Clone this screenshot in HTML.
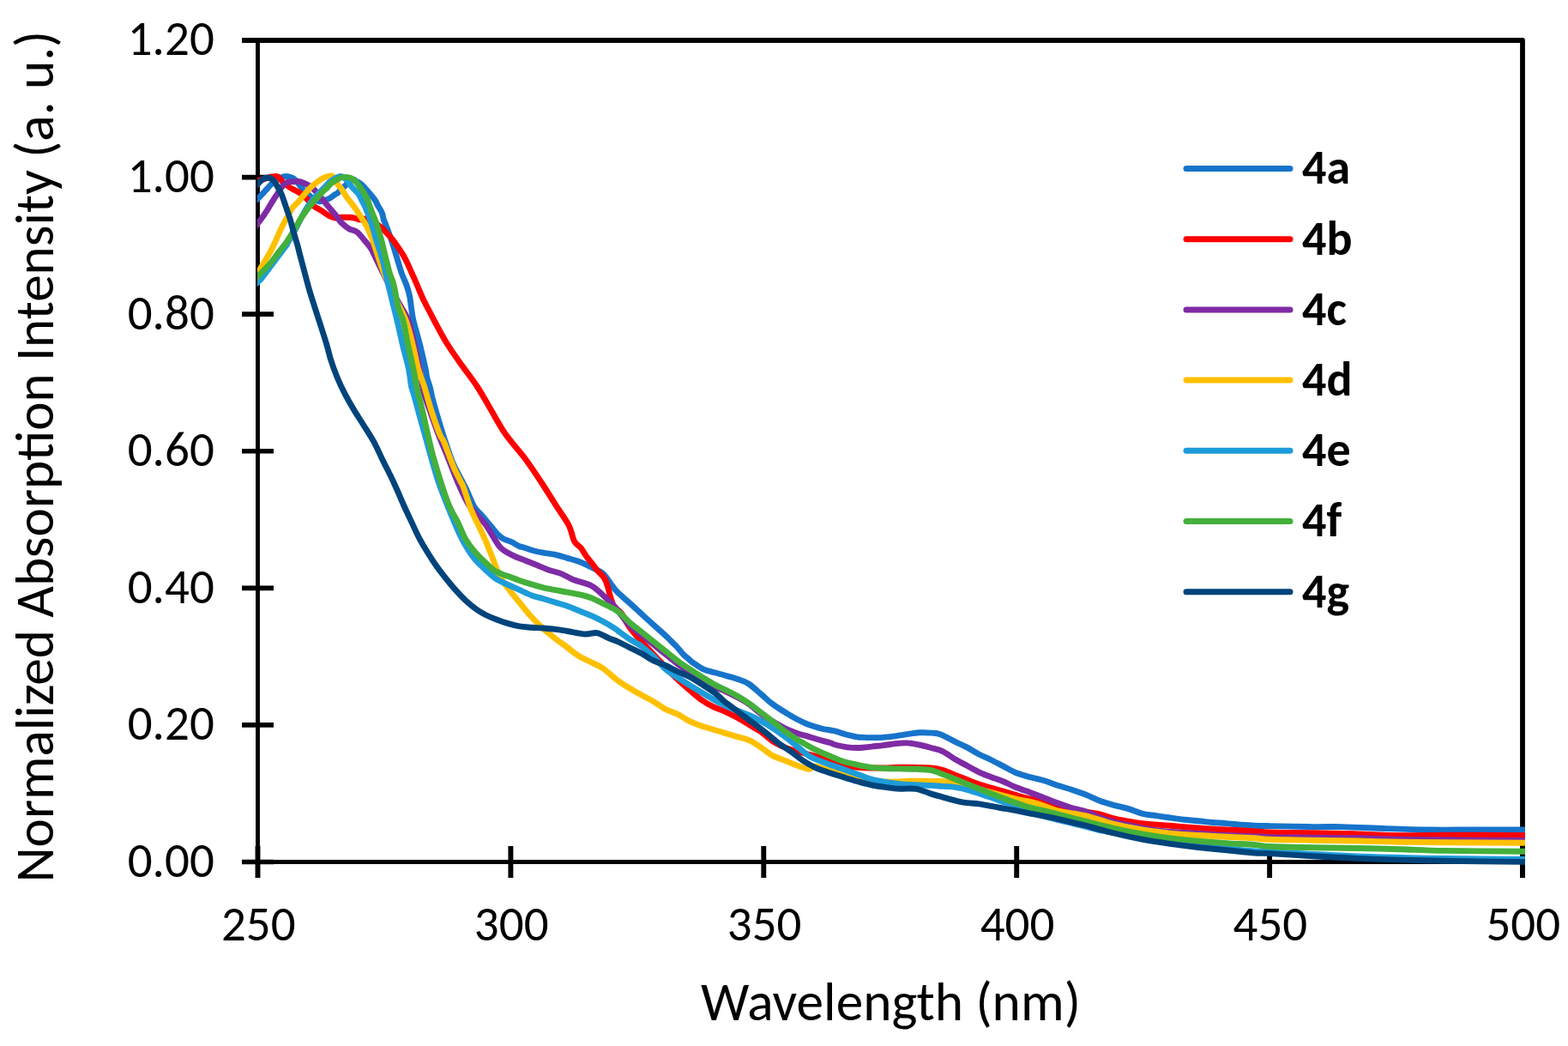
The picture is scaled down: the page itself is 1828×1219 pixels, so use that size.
<!DOCTYPE html>
<html><head><meta charset="utf-8"><title>Normalized Absorption</title>
<style>
html,body{margin:0;padding:0;background:#fff;}
body{width:1828px;height:1219px;overflow:hidden;}
svg{display:block;}
text{font-family:Carlito, 'Liberation Sans', sans-serif;fill:#000;}
</style></head><body>
<svg width="1828" height="1219" viewBox="0 0 1828 1219">
<rect width="1828" height="1219" fill="#fff"/>
<defs><clipPath id="pa"><rect x="300" y="30" width="1478" height="985"/></clipPath></defs>

<path d="M282 47 H1775 V1023" fill="none" stroke="#000" stroke-width="5.8" stroke-linejoin="round"/>
<line x1="300.5" y1="44" x2="300.5" y2="1023" stroke="#000" stroke-width="4.9"/>
<line x1="282" y1="1004.5" x2="1778" y2="1004.5" stroke="#000" stroke-width="4.9"/>
<line x1="282" y1="1004.50" x2="319" y2="1004.50" stroke="#000" stroke-width="5.6"/>
<line x1="282" y1="844.92" x2="319" y2="844.92" stroke="#000" stroke-width="5.6"/>
<line x1="282" y1="685.33" x2="319" y2="685.33" stroke="#000" stroke-width="5.6"/>
<line x1="282" y1="525.75" x2="319" y2="525.75" stroke="#000" stroke-width="5.6"/>
<line x1="282" y1="366.17" x2="319" y2="366.17" stroke="#000" stroke-width="5.6"/>
<line x1="282" y1="206.58" x2="319" y2="206.58" stroke="#000" stroke-width="5.6"/>
<line x1="282" y1="47.00" x2="319" y2="47.00" stroke="#000" stroke-width="5.6"/>
<line x1="300.50" y1="986" x2="300.50" y2="1023" stroke="#000" stroke-width="5.9"/>
<line x1="595.40" y1="986" x2="595.40" y2="1023" stroke="#000" stroke-width="5.9"/>
<line x1="890.30" y1="986" x2="890.30" y2="1023" stroke="#000" stroke-width="5.9"/>
<line x1="1185.20" y1="986" x2="1185.20" y2="1023" stroke="#000" stroke-width="5.9"/>
<line x1="1480.10" y1="986" x2="1480.10" y2="1023" stroke="#000" stroke-width="5.9"/>
<line x1="1775.00" y1="986" x2="1775.00" y2="1023" stroke="#000" stroke-width="5.9"/>
<g clip-path="url(#pa)" fill="none" stroke-width="6.9" stroke-linejoin="round" stroke-linecap="butt">
<path stroke="#1774CB" d="M294.0 238.1 C295.1 237.0 298.4 233.6 300.5 231.5 C302.6 229.4 304.6 227.5 306.5 225.4 C308.4 223.3 310.3 221.2 312.2 219.1 C314.1 217.0 316.0 214.8 318.0 213.0 C320.0 211.2 322.0 209.7 324.0 208.5 C326.0 207.3 328.1 206.5 330.0 206.0 C331.9 205.5 333.5 205.4 335.2 205.6 C336.9 205.8 338.6 206.4 340.0 207.0 C341.4 207.6 342.5 208.2 343.8 209.4 C345.1 210.6 346.6 212.3 348.0 214.0 C349.4 215.7 350.9 217.9 352.4 219.7 C353.9 221.4 355.4 222.9 357.0 224.5 C358.6 226.1 360.3 227.6 362.0 229.0 C363.7 230.4 365.2 232.0 367.0 233.0 C368.8 234.0 370.7 234.7 372.5 234.8 C374.3 234.9 376.0 234.1 378.0 233.5 C380.0 232.9 382.5 232.2 384.5 231.1 C386.5 230.0 388.2 228.3 389.8 227.2 C391.4 226.1 392.8 225.7 394.2 224.5 C395.6 223.3 396.8 221.0 398.0 219.8 C399.2 218.6 400.4 218.2 401.6 217.2 C402.8 216.1 404.1 214.6 405.3 213.5 C406.5 212.4 407.7 211.2 409.0 210.5 C410.3 209.8 411.8 209.3 413.0 209.5 C414.2 209.7 414.8 211.1 416.0 211.8 C417.2 212.5 418.5 212.7 420.0 213.8 C421.5 214.9 422.3 215.5 425.0 218.5 C427.7 221.5 433.7 228.4 436.3 231.9 C438.9 235.4 438.9 236.5 440.4 239.3 C441.9 242.1 444.4 245.7 445.5 248.5 C446.6 251.3 446.6 253.7 447.3 256.0 C448.1 258.3 448.5 258.4 450.0 262.5 C451.5 266.6 454.4 274.2 456.5 280.3 C458.6 286.4 460.4 292.7 462.3 299.0 C464.2 305.3 466.2 312.4 468.1 318.0 C470.1 323.6 472.4 327.9 474.0 332.5 C475.6 337.1 476.8 341.4 477.7 345.8 C478.6 350.2 478.8 354.1 479.5 358.7 C480.2 363.3 480.3 366.6 482.0 373.7 C483.7 380.8 487.2 392.2 489.5 401.5 C491.8 410.8 494.6 423.0 496.0 429.4 C497.4 435.8 496.9 436.2 497.8 440.0 C498.7 443.8 500.4 447.6 501.5 452.0 C502.6 456.4 502.8 459.4 504.6 466.2 C506.4 472.9 509.8 484.4 512.2 492.5 C514.7 500.6 516.5 506.9 519.3 515.0 C522.0 523.1 524.9 532.5 528.7 541.2 C532.6 550.0 538.4 559.4 542.4 567.5 C546.4 575.6 549.4 584.6 552.5 590.0 C555.6 595.4 557.8 596.1 561.0 599.8 C564.2 603.5 568.3 608.5 571.5 612.3 C574.7 616.1 577.4 619.9 580.0 622.5 C582.6 625.1 584.3 626.5 587.0 628.0 C589.7 629.5 593.4 630.3 596.4 631.7 C599.4 633.1 602.4 635.4 605.0 636.5 C607.6 637.6 609.4 637.6 612.2 638.5 C615.0 639.4 618.5 640.8 622.0 641.8 C625.5 642.8 629.2 643.5 633.4 644.2 C637.6 645.0 642.6 645.3 647.3 646.3 C651.9 647.3 656.6 649.0 661.3 650.4 C665.9 651.8 670.6 652.9 675.2 654.6 C679.8 656.4 684.5 658.6 689.1 660.9 C693.8 663.2 698.9 664.9 703.1 668.6 C707.3 672.3 711.4 679.6 714.2 683.2 C717.0 686.8 716.7 687.0 720.0 690.2 C723.3 693.4 729.2 698.4 733.9 702.6 C738.5 706.8 743.2 711.2 747.9 715.5 C752.5 719.8 757.1 723.9 761.8 728.1 C766.4 732.3 772.8 737.9 775.8 740.6 C778.8 743.4 777.6 742.3 779.9 744.6 C782.2 746.9 786.9 751.4 789.7 754.5 C792.6 757.6 794.7 760.6 797.0 763.0 C799.3 765.4 801.9 767.2 803.7 768.8 C805.5 770.4 805.3 770.6 808.0 772.4 C810.7 774.2 815.7 777.9 819.9 779.8 C824.1 781.7 828.3 782.4 833.0 783.8 C837.7 785.1 843.4 786.6 847.9 787.9 C852.4 789.2 855.8 790.0 860.0 791.5 C864.2 793.0 868.4 794.1 872.9 797.0 C877.4 799.9 882.8 805.2 887.3 809.0 C891.8 812.8 896.0 816.9 899.7 819.8 C903.4 822.7 906.2 824.4 909.5 826.5 C912.8 828.6 916.1 830.6 919.4 832.6 C922.7 834.6 926.0 836.6 929.3 838.3 C932.6 840.0 935.8 841.6 939.1 843.0 C942.4 844.4 945.6 845.5 948.9 846.6 C952.2 847.7 955.6 848.7 958.8 849.4 C962.0 850.1 965.7 850.5 968.2 851.0 C970.7 851.5 970.6 851.2 973.9 852.1 C977.2 853.0 983.2 855.1 987.9 856.3 C992.5 857.5 997.1 858.7 1001.8 859.2 C1006.4 859.8 1011.1 859.6 1015.8 859.6 C1020.4 859.6 1025.0 859.7 1029.7 859.4 C1034.4 859.1 1039.1 858.4 1043.7 857.8 C1048.3 857.2 1053.0 856.4 1057.6 855.7 C1062.2 855.0 1066.8 854.1 1071.5 853.8 C1076.2 853.5 1081.3 853.8 1085.5 854.1 C1089.7 854.5 1091.9 854.2 1096.6 855.9 C1101.2 857.6 1108.3 861.8 1113.4 864.3 C1118.5 866.8 1122.7 868.4 1127.3 870.9 C1131.9 873.4 1136.6 876.6 1141.3 879.0 C1146.0 881.4 1150.6 883.2 1155.2 885.5 C1159.8 887.8 1164.4 890.2 1169.1 892.6 C1173.8 895.0 1178.4 898.0 1183.1 900.0 C1187.8 902.0 1191.5 903.0 1197.0 904.6 C1202.5 906.2 1210.4 907.7 1216.4 909.5 C1222.4 911.3 1227.3 913.5 1232.8 915.3 C1238.3 917.1 1243.7 918.4 1249.2 920.2 C1254.7 922.0 1260.1 923.8 1265.6 926.0 C1271.1 928.2 1276.6 931.2 1282.1 933.3 C1287.6 935.3 1293.0 936.8 1298.5 938.3 C1304.0 939.8 1309.4 940.8 1314.9 942.4 C1320.4 944.0 1325.8 946.7 1331.3 948.1 C1336.8 949.5 1342.2 949.8 1347.7 950.6 C1353.2 951.4 1358.6 952.2 1364.1 953.0 C1369.6 953.8 1375.0 954.6 1380.5 955.2 C1386.0 955.8 1391.4 956.2 1396.9 956.8 C1402.4 957.3 1407.9 958.0 1413.4 958.5 C1418.9 959.0 1424.3 959.1 1429.8 959.6 C1435.3 960.1 1440.7 960.8 1446.2 961.2 C1451.7 961.6 1457.0 962.0 1462.6 962.2 C1468.2 962.4 1468.6 962.4 1480.0 962.6 C1491.4 962.8 1516.8 963.4 1530.9 963.6 C1545.0 963.8 1550.7 963.3 1564.8 963.6 C1578.9 963.9 1598.8 965.0 1615.7 965.6 C1632.7 966.2 1649.5 966.8 1666.5 967.0 C1683.5 967.2 1699.3 967.0 1717.4 967.0 C1735.5 967.0 1764.2 967.0 1775.0 967.0 C1785.8 967.0 1780.8 967.0 1782.0 967.0"/>
<path stroke="#FF0000" d="M294.0 211.2 C295.1 211.0 298.5 210.4 300.5 210.0 C302.5 209.6 304.1 209.4 306.0 209.0 C307.9 208.6 310.2 208.0 312.0 207.5 C313.8 207.0 315.3 206.3 317.0 206.0 C318.7 205.7 320.5 205.2 322.0 205.5 C323.5 205.8 324.8 206.4 326.0 207.5 C327.2 208.6 328.0 210.7 329.5 212.2 C331.0 213.7 333.1 215.2 335.0 216.5 C336.9 217.8 338.6 218.9 341.0 220.3 C343.4 221.7 346.7 222.9 349.6 224.9 C352.5 226.9 355.6 229.9 358.2 232.3 C360.8 234.8 362.1 237.4 364.9 239.6 C367.7 241.8 371.5 243.5 374.8 245.6 C378.1 247.7 381.9 250.6 384.6 252.0 C387.3 253.4 388.8 253.8 391.0 254.0 C393.2 254.2 395.3 253.4 398.0 253.3 C400.7 253.2 404.3 253.1 407.0 253.3 C409.7 253.5 412.0 253.9 414.2 254.3 C416.4 254.8 418.2 255.9 420.0 256.0 C421.8 256.1 422.7 254.6 425.0 255.0 C427.3 255.4 431.0 257.0 434.0 258.5 C437.0 260.0 440.2 261.6 443.2 264.0 C446.2 266.4 449.6 270.3 452.2 273.0 C454.8 275.7 455.4 276.0 458.5 280.3 C461.6 284.6 467.4 292.7 471.0 299.0 C474.6 305.3 477.4 312.4 480.0 318.0 C482.6 323.6 484.1 327.2 486.4 332.5 C488.7 337.8 491.6 345.0 494.0 350.0 C496.4 355.0 498.3 358.3 500.5 362.5 C502.7 366.7 503.6 368.8 507.0 375.0 C510.4 381.2 515.8 391.7 520.9 400.0 C526.0 408.3 532.0 416.7 537.9 425.0 C543.8 433.3 550.2 441.2 556.0 450.0 C561.8 458.8 567.1 468.7 572.6 478.0 C578.1 487.3 582.7 496.5 589.2 505.8 C595.7 515.1 604.9 524.7 611.8 534.0 C618.7 543.3 624.6 552.3 630.7 561.5 C636.8 570.7 643.0 581.0 648.4 589.4 C653.8 597.8 659.5 605.1 663.0 612.0 C666.5 618.9 667.3 626.5 669.6 630.9 C671.9 635.2 675.0 635.8 676.9 638.1 C678.8 640.4 679.7 642.5 681.2 644.7 C682.7 646.9 684.0 649.0 685.7 651.2 C687.4 653.4 689.5 655.6 691.2 657.8 C692.9 660.0 694.4 662.6 695.9 664.4 C697.4 666.2 698.5 666.8 700.0 668.5 C701.5 670.2 703.6 672.1 705.1 674.8 C706.6 677.5 707.8 681.3 708.8 684.6 C709.8 687.9 710.3 691.2 711.3 694.5 C712.3 697.8 713.5 701.8 714.7 704.3 C715.9 706.8 716.8 707.3 718.6 709.3 C720.4 711.2 722.9 712.4 725.4 716.0 C727.9 719.6 730.1 725.6 733.9 730.9 C737.6 736.2 742.1 741.1 747.9 747.6 C753.7 754.1 762.4 763.3 768.8 770.0 C775.1 776.7 780.2 782.3 786.0 788.0 C791.8 793.7 798.4 799.4 803.7 804.0 C809.0 808.6 813.0 812.2 817.6 815.5 C822.2 818.8 826.9 821.4 831.5 823.7 C836.1 826.0 840.9 827.2 845.5 829.3 C850.1 831.4 854.8 833.8 859.4 836.3 C864.0 838.8 868.8 841.8 873.4 844.6 C878.0 847.4 882.6 849.8 887.3 853.0 C891.9 856.2 896.6 861.1 901.3 864.1 C905.9 867.1 910.4 869.1 915.2 871.1 C920.0 873.1 924.2 874.4 930.0 876.0 C935.8 877.6 944.0 879.1 950.0 881.0 C956.0 882.9 960.5 885.4 966.0 887.2 C971.5 889.0 977.1 890.8 982.8 892.0 C988.5 893.2 994.6 893.8 1000.0 894.3 C1005.4 894.8 1010.0 894.9 1015.0 895.0 C1020.0 895.1 1024.4 895.0 1030.0 894.9 C1035.6 894.8 1042.2 894.4 1048.5 894.3 C1054.8 894.2 1061.8 894.3 1068.0 894.4 C1074.2 894.5 1080.3 894.5 1085.5 895.0 C1090.7 895.5 1094.8 896.2 1099.4 897.6 C1104.1 899.0 1108.8 901.3 1113.4 903.1 C1118.1 904.9 1122.7 906.7 1127.3 908.5 C1131.9 910.3 1136.6 912.3 1141.3 913.9 C1146.0 915.5 1150.6 916.6 1155.2 918.0 C1159.8 919.4 1164.4 920.7 1169.1 922.1 C1173.8 923.5 1178.4 924.9 1183.1 926.2 C1187.8 927.6 1192.6 929.1 1197.0 930.2 C1201.4 931.3 1203.6 931.3 1209.6 932.9 C1215.6 934.5 1224.4 937.9 1232.8 939.9 C1241.2 941.9 1251.8 943.5 1260.0 945.0 C1268.2 946.5 1275.7 947.4 1282.1 948.9 C1288.5 950.4 1293.0 952.5 1298.5 953.9 C1304.0 955.3 1309.4 956.1 1314.9 957.1 C1320.4 958.1 1323.1 958.7 1331.3 959.6 C1339.5 960.5 1353.2 961.4 1364.1 962.3 C1375.0 963.2 1386.0 964.2 1396.9 965.0 C1407.9 965.8 1418.8 966.4 1429.8 967.0 C1440.8 967.6 1454.2 968.1 1462.6 968.6 C1471.0 969.1 1468.6 969.6 1480.0 970.0 C1491.4 970.4 1514.0 970.5 1530.9 970.8 C1547.9 971.1 1564.8 971.4 1581.7 971.9 C1598.7 972.4 1615.6 973.4 1632.6 973.6 C1649.6 973.8 1659.8 973.2 1683.5 973.2 C1707.2 973.2 1758.6 973.4 1775.0 973.5 C1791.4 973.6 1780.8 973.5 1782.0 973.5"/>
<path stroke="#7F2BA5" d="M294.0 269.3 C295.1 267.8 298.4 263.3 300.5 260.5 C302.6 257.7 304.6 255.2 306.5 252.4 C308.4 249.6 310.3 246.9 312.2 243.8 C314.1 240.8 316.1 237.2 318.0 234.1 C319.9 231.0 321.8 228.3 323.7 225.4 C325.6 222.5 327.6 219.0 329.5 216.8 C331.4 214.6 332.8 213.0 335.2 212.2 C337.6 211.3 341.4 211.8 343.8 211.7 C346.2 211.6 347.2 211.1 349.6 211.7 C352.0 212.3 355.8 213.9 358.2 215.1 C360.6 216.3 362.0 217.3 364.0 219.0 C366.0 220.7 368.1 222.9 370.0 225.0 C371.9 227.1 373.5 229.5 375.4 231.8 C377.3 234.1 379.3 236.4 381.2 238.7 C383.1 241.0 385.0 243.2 386.9 245.5 C388.8 247.8 390.8 250.1 392.6 252.4 C394.5 254.7 395.6 257.1 398.0 259.5 C400.4 261.9 404.0 264.9 407.0 266.7 C410.0 268.5 413.1 268.0 416.1 270.3 C419.1 272.6 422.4 277.1 425.1 280.3 C427.8 283.5 430.5 286.6 432.3 289.3 C434.1 292.0 433.9 292.2 436.0 296.5 C438.1 300.8 441.8 308.6 445.0 315.0 C448.2 321.4 451.5 328.3 455.0 335.0 C458.5 341.7 462.5 348.6 466.0 355.0 C469.5 361.4 473.3 366.0 476.1 373.7 C478.9 381.4 480.9 391.8 483.0 401.0 C485.1 410.2 487.2 419.7 489.0 429.0 C490.8 438.3 492.0 448.8 494.0 457.0 C496.0 465.2 498.2 469.8 501.0 478.0 C503.8 486.2 507.4 496.7 511.0 506.0 C514.6 515.3 518.8 524.8 522.5 534.0 C526.2 543.2 529.4 552.3 533.5 561.5 C537.6 570.7 541.7 580.9 547.0 589.0 C552.3 597.1 560.5 604.0 565.1 610.0 C569.7 616.0 571.5 620.4 574.8 625.3 C578.0 630.2 580.6 635.6 584.6 639.3 C588.6 643.0 593.9 645.3 598.5 647.6 C603.1 649.9 607.9 651.3 612.5 653.2 C617.1 655.1 621.8 656.9 626.4 658.8 C631.0 660.7 635.6 662.8 640.3 664.4 C644.9 666.0 649.6 666.8 654.3 668.6 C658.9 670.5 662.4 673.2 668.2 675.5 C674.0 677.8 683.3 679.5 689.1 682.5 C694.9 685.5 698.5 689.5 703.1 693.7 C707.8 697.9 712.8 702.9 717.0 707.6 C721.2 712.3 725.4 718.5 728.2 722.0 C731.0 725.5 730.6 725.8 733.9 728.8 C737.2 731.8 743.2 736.2 747.9 739.9 C752.5 743.6 757.1 747.4 761.8 751.1 C766.4 754.8 771.1 758.6 775.8 762.3 C780.4 766.0 785.1 769.9 789.7 773.4 C794.4 776.9 799.1 780.2 803.7 783.2 C808.4 786.2 813.0 788.7 817.6 791.5 C822.2 794.3 826.9 797.6 831.5 799.9 C836.1 802.2 840.9 803.4 845.5 805.5 C850.1 807.6 854.8 810.0 859.4 812.5 C864.0 815.0 868.8 817.5 873.4 820.8 C878.0 824.0 882.6 828.6 887.3 832.0 C891.9 835.4 896.6 838.2 901.3 841.0 C905.9 843.8 910.6 846.6 915.2 848.8 C919.8 851.0 924.5 852.8 929.1 854.4 C933.8 856.0 938.5 857.2 943.1 858.6 C947.8 860.0 952.8 861.5 957.0 862.7 C961.2 863.9 965.4 864.9 968.2 865.8 C971.0 866.7 970.6 867.2 973.9 868.0 C977.2 868.8 983.2 870.2 987.9 870.8 C992.5 871.4 997.1 871.6 1001.8 871.5 C1006.4 871.4 1011.1 870.6 1015.8 870.1 C1020.4 869.6 1025.0 869.3 1029.7 868.7 C1034.4 868.1 1039.1 867.1 1043.7 866.6 C1048.3 866.1 1053.0 865.7 1057.6 865.9 C1062.2 866.1 1066.8 867.1 1071.5 868.0 C1076.2 868.9 1080.8 870.2 1085.5 871.5 C1090.2 872.8 1094.8 873.6 1099.4 875.8 C1104.1 878.0 1108.8 882.0 1113.4 884.8 C1118.1 887.5 1122.7 889.8 1127.3 892.3 C1131.9 894.8 1136.6 897.6 1141.3 899.8 C1146.0 902.0 1150.6 903.7 1155.2 905.5 C1159.8 907.3 1164.4 908.6 1169.1 910.5 C1173.8 912.4 1178.4 915.1 1183.1 917.0 C1187.8 918.9 1192.6 920.5 1197.0 922.1 C1201.4 923.7 1203.6 924.4 1209.6 926.7 C1215.6 929.0 1226.2 933.3 1232.8 935.8 C1239.4 938.3 1243.7 939.8 1249.2 941.5 C1254.7 943.2 1260.1 943.9 1265.6 945.8 C1271.1 947.7 1276.6 950.7 1282.1 952.7 C1287.6 954.7 1293.0 956.4 1298.5 957.8 C1304.0 959.2 1309.4 960.1 1314.9 961.3 C1320.4 962.5 1325.8 963.8 1331.3 964.8 C1336.8 965.8 1342.2 966.8 1347.7 967.6 C1353.2 968.4 1355.9 968.8 1364.1 969.4 C1372.3 970.0 1386.0 970.8 1396.9 971.5 C1407.9 972.2 1418.8 973.0 1429.8 973.5 C1440.8 974.0 1454.2 974.2 1462.6 974.6 C1471.0 975.0 1468.6 975.3 1480.0 975.6 C1491.4 975.9 1514.0 976.0 1530.9 976.2 C1547.9 976.4 1564.8 976.5 1581.7 976.8 C1598.7 977.1 1615.6 977.9 1632.6 978.2 C1649.6 978.5 1659.8 978.5 1683.5 978.7 C1707.2 978.9 1758.6 979.4 1775.0 979.5 C1791.4 979.6 1780.8 979.6 1782.0 979.6"/>
<path stroke="#FFC000" d="M294.0 331.4 C295.1 329.3 298.7 322.4 300.5 319.0 C302.3 315.6 302.4 314.9 304.8 310.8 C307.2 306.7 312.0 299.3 314.7 294.4 C317.4 289.5 319.0 285.9 321.2 281.2 C323.4 276.5 325.5 271.0 327.8 266.2 C330.1 261.4 333.0 256.4 335.2 252.4 C337.4 248.4 339.1 244.8 341.0 242.1 C342.9 239.4 344.8 238.5 346.7 236.4 C348.6 234.3 350.5 231.8 352.4 229.5 C354.3 227.2 356.3 224.7 358.2 222.6 C360.1 220.5 362.0 218.5 363.9 216.8 C365.8 215.1 367.8 213.6 369.7 212.2 C371.6 210.8 373.5 209.2 375.4 208.2 C377.3 207.1 379.3 206.4 381.2 205.9 C383.1 205.4 385.0 204.7 386.5 205.0 C388.0 205.3 388.8 205.9 390.0 207.5 C391.2 209.1 392.2 212.4 393.5 214.5 C394.8 216.6 396.1 217.5 397.9 220.0 C399.6 222.5 401.5 226.0 404.0 229.5 C406.5 233.0 410.3 237.4 412.9 241.0 C415.5 244.6 417.3 247.7 419.5 251.0 C421.7 254.3 424.0 257.7 425.9 261.0 C427.8 264.3 429.3 267.7 430.8 271.0 C432.3 274.3 433.4 276.5 435.0 281.0 C436.6 285.5 438.4 291.8 440.5 298.0 C442.6 304.2 444.2 310.0 447.5 318.0 C450.8 326.0 455.7 336.7 460.0 346.0 C464.3 355.3 469.8 364.4 473.3 373.7 C476.8 382.9 478.8 392.2 481.1 401.5 C483.5 410.8 485.2 421.3 487.4 429.4 C489.6 437.5 491.9 441.9 494.5 450.0 C497.1 458.1 499.7 468.6 502.7 477.9 C505.7 487.2 510.0 499.6 512.5 505.8 C515.0 512.0 515.6 510.4 517.6 515.0 C519.6 519.6 522.6 528.4 524.7 533.7 C526.8 539.0 527.9 542.4 530.0 547.0 C532.1 551.6 535.6 558.1 537.3 561.5 C539.0 564.9 538.2 562.1 540.2 567.5 C542.2 572.9 546.4 586.6 549.1 593.7 C551.9 600.8 553.8 603.8 556.7 610.0 C559.6 616.2 563.4 623.9 566.4 630.9 C569.4 637.9 572.0 644.8 574.8 651.8 C577.6 658.8 580.0 666.7 583.2 672.7 C586.5 678.8 590.6 683.2 594.3 688.1 C598.0 693.0 601.3 696.9 605.5 702.0 C609.7 707.1 614.8 713.7 619.4 718.8 C624.0 723.9 630.0 729.5 633.4 732.7 C636.8 735.9 637.2 735.9 640.0 738.2 C642.8 740.5 646.7 743.8 650.0 746.3 C653.3 748.8 655.8 750.3 660.0 753.4 C664.2 756.5 670.4 761.8 675.2 764.8 C680.1 767.8 684.5 769.3 689.1 771.7 C693.8 774.1 698.0 775.5 703.1 779.0 C708.2 782.5 714.9 789.2 720.0 793.0 C725.1 796.8 729.2 799.2 733.9 802.0 C738.5 804.8 743.2 807.4 747.9 810.0 C752.5 812.6 757.1 814.8 761.8 817.5 C766.4 820.2 771.1 824.1 775.8 826.5 C780.4 828.9 785.1 829.8 789.7 832.1 C794.4 834.4 799.1 838.1 803.7 840.4 C808.4 842.7 813.0 844.4 817.6 846.0 C822.2 847.6 826.9 848.8 831.5 850.2 C836.1 851.6 840.9 853.0 845.5 854.4 C850.1 855.8 854.8 857.2 859.4 858.6 C864.0 860.0 868.8 860.6 873.4 862.7 C878.0 864.8 882.6 868.1 887.3 871.1 C891.9 874.1 896.6 878.4 901.3 880.9 C905.9 883.4 910.6 884.5 915.2 886.4 C919.8 888.2 924.5 890.4 929.1 892.0 C933.8 893.6 939.6 896.0 943.1 896.2 C946.6 896.4 946.2 892.8 950.0 893.0 C953.8 893.2 960.5 896.0 966.0 897.5 C971.5 899.0 977.1 900.5 982.8 902.0 C988.5 903.5 994.5 905.0 1000.0 906.4 C1005.5 907.8 1010.4 909.3 1015.7 910.1 C1021.0 910.9 1026.5 910.9 1032.0 911.0 C1037.5 911.1 1043.8 911.1 1048.5 911.0 C1053.2 910.9 1056.1 910.4 1060.0 910.2 C1063.9 910.1 1067.8 910.1 1072.0 910.1 C1076.2 910.1 1080.9 910.4 1085.5 910.5 C1090.1 910.6 1092.4 909.8 1099.4 910.7 C1106.4 911.7 1118.9 914.3 1127.3 916.2 C1135.7 918.1 1141.2 919.7 1150.0 922.0 C1158.8 924.3 1170.1 927.6 1180.0 930.0 C1189.9 932.4 1200.8 934.0 1209.6 936.5 C1218.4 939.0 1223.5 942.4 1232.8 944.8 C1242.1 947.1 1254.6 948.0 1265.6 950.6 C1276.5 953.2 1287.5 957.7 1298.5 960.4 C1309.5 963.1 1320.4 965.2 1331.3 967.0 C1342.2 968.8 1353.2 970.0 1364.1 971.1 C1375.0 972.2 1386.0 972.8 1396.9 973.5 C1407.9 974.2 1418.8 974.7 1429.8 975.2 C1440.8 975.8 1454.2 976.3 1462.6 976.8 C1471.0 977.3 1468.6 977.9 1480.0 978.3 C1491.4 978.7 1514.0 978.9 1530.9 979.2 C1547.9 979.5 1564.8 979.7 1581.7 980.0 C1598.7 980.3 1615.6 980.9 1632.6 981.2 C1649.6 981.5 1659.8 981.5 1683.5 981.7 C1707.2 981.9 1758.6 982.1 1775.0 982.2 C1791.4 982.3 1780.8 982.2 1782.0 982.2"/>
<path stroke="#1E9CD9" d="M294.0 335.3 C295.1 334.2 298.7 330.6 300.5 328.8 C302.3 327.0 302.4 327.4 304.8 324.5 C307.2 321.6 311.4 315.9 314.7 311.5 C318.0 307.1 321.2 302.8 324.5 298.4 C327.8 294.0 332.5 287.9 334.4 285.2 C336.3 282.5 334.7 284.2 336.0 282.0 C337.3 279.8 340.0 275.6 342.0 272.0 C344.0 268.4 346.0 264.2 348.0 260.3 C350.0 256.4 352.0 252.2 354.0 248.6 C356.0 245.0 358.0 241.7 360.0 238.8 C362.0 235.9 364.0 233.6 366.0 231.3 C368.0 229.0 370.0 226.9 372.0 224.8 C374.0 222.7 376.0 220.8 378.0 218.7 C380.0 216.6 382.0 214.2 384.0 212.4 C386.0 210.7 388.6 209.1 390.0 208.2 C391.4 207.3 391.4 207.4 392.6 207.0 C393.8 206.6 395.6 205.5 397.0 205.5 C398.4 205.5 399.7 206.1 401.0 207.0 C402.3 207.9 403.4 209.1 405.0 211.0 C406.6 212.9 408.6 216.0 410.8 218.5 C413.0 221.0 416.1 223.6 418.0 226.2 C419.9 228.8 420.6 231.3 421.9 233.8 C423.2 236.3 423.7 236.5 425.6 241.0 C427.5 245.5 431.0 254.3 433.2 261.0 C435.4 267.7 437.4 275.7 439.0 281.0 C440.6 286.3 441.7 288.8 443.0 293.0 C444.3 297.2 445.8 302.1 446.9 306.2 C448.0 310.3 448.5 313.5 449.5 317.9 C450.5 322.3 451.7 327.9 452.8 332.5 C453.9 337.1 454.4 338.9 456.1 345.8 C457.8 352.7 460.8 364.4 463.0 373.7 C465.2 383.0 467.1 392.2 469.3 401.5 C471.5 410.8 474.6 421.3 476.3 429.4 C478.0 437.5 478.5 444.9 479.5 450.0 C480.5 455.1 479.9 450.7 482.5 460.0 C485.1 469.3 490.3 488.9 495.1 505.8 C499.9 522.7 505.2 544.1 511.1 561.5 C517.0 578.9 525.4 598.4 530.2 610.0 C535.0 621.6 536.3 624.2 540.0 630.9 C543.7 637.6 548.1 644.8 552.5 650.4 C556.9 656.0 562.2 660.4 566.4 664.4 C570.6 668.4 573.4 671.3 577.6 674.1 C581.8 676.9 586.9 678.9 591.5 681.1 C596.1 683.3 600.9 685.3 605.5 687.4 C610.1 689.5 614.8 692.0 619.4 693.7 C624.0 695.4 628.8 696.4 633.4 697.8 C638.0 699.2 642.6 700.6 647.3 702.0 C651.9 703.4 656.6 704.6 661.3 706.2 C665.9 707.8 670.6 709.9 675.2 711.8 C679.8 713.7 684.5 715.3 689.1 717.4 C693.8 719.5 698.5 721.8 703.1 724.3 C707.8 726.8 713.4 730.3 717.0 732.7 C720.6 735.1 722.2 736.5 725.0 738.5 C727.8 740.5 730.1 742.3 733.9 744.8 C737.7 747.2 743.2 749.8 747.9 753.2 C752.5 756.6 757.1 760.6 761.8 765.0 C766.4 769.4 771.1 775.6 775.8 779.7 C780.4 783.8 785.1 786.3 789.7 789.4 C794.4 792.5 799.1 795.4 803.7 798.3 C808.4 801.2 813.0 804.0 817.6 806.8 C822.2 809.6 826.9 812.4 831.5 815.0 C836.1 817.6 840.8 820.1 845.5 822.3 C850.2 824.5 854.9 826.1 859.5 828.0 C864.1 829.9 868.8 831.4 873.4 833.5 C878.0 835.6 882.6 837.9 887.3 840.4 C891.9 842.9 896.6 845.8 901.3 848.8 C905.9 851.8 910.6 855.1 915.2 858.6 C919.8 862.1 924.5 866.0 929.1 869.7 C933.8 873.4 939.6 878.5 943.1 880.9 C946.6 883.3 946.2 882.8 950.0 884.4 C953.8 886.0 960.5 888.5 966.0 890.5 C971.5 892.5 977.1 894.3 982.8 896.3 C988.5 898.3 994.5 900.4 1000.0 902.4 C1005.5 904.4 1010.4 906.6 1015.7 908.1 C1021.0 909.6 1026.5 910.5 1032.0 911.4 C1037.5 912.3 1042.5 913.0 1048.5 913.6 C1054.5 914.2 1062.0 914.5 1068.2 914.8 C1074.4 915.1 1080.3 915.1 1085.5 915.4 C1090.7 915.7 1094.8 916.1 1099.4 916.4 C1104.1 916.7 1108.8 916.6 1113.4 917.3 C1118.1 917.9 1122.7 919.1 1127.3 920.3 C1131.9 921.5 1136.6 923.1 1141.3 924.6 C1146.0 926.1 1150.6 927.7 1155.2 929.3 C1159.8 930.9 1164.4 933.0 1169.1 934.4 C1173.8 935.8 1177.9 936.0 1183.1 937.7 C1188.2 939.4 1194.7 942.4 1200.0 944.5 C1205.3 946.6 1209.5 948.7 1215.0 950.5 C1220.5 952.3 1227.0 953.8 1232.8 955.3 C1238.6 956.8 1244.5 958.1 1250.0 959.4 C1255.5 960.7 1260.3 961.8 1265.6 963.2 C1270.9 964.6 1276.5 966.5 1282.0 967.6 C1287.5 968.7 1290.3 968.5 1298.5 970.0 C1306.7 971.5 1320.4 974.6 1331.3 976.5 C1342.2 978.4 1353.2 980.0 1364.1 981.5 C1375.0 983.0 1386.0 984.2 1396.9 985.5 C1407.9 986.8 1418.8 987.9 1429.8 989.0 C1440.8 990.1 1454.2 991.4 1462.6 992.0 C1471.0 992.6 1468.6 991.9 1480.0 992.5 C1491.4 993.1 1514.0 994.6 1530.9 995.5 C1547.9 996.4 1564.8 997.3 1581.7 998.0 C1598.7 998.7 1615.6 999.1 1632.6 999.5 C1649.6 999.9 1659.8 1000.2 1683.5 1000.5 C1707.2 1000.8 1758.6 1001.3 1775.0 1001.5 C1791.4 1001.7 1780.8 1001.6 1782.0 1001.6"/>
<path stroke="#44B03B" d="M294.0 328.6 C295.1 327.5 297.1 325.5 300.5 322.0 C303.9 318.5 310.7 312.1 314.7 307.5 C318.7 302.9 321.4 298.5 324.5 294.4 C327.6 290.3 330.7 286.8 333.4 283.0 C336.1 279.2 338.1 275.9 340.9 271.4 C343.6 266.9 347.1 260.4 349.9 256.0 C352.7 251.6 355.2 248.2 357.5 245.0 C359.8 241.8 361.9 239.3 363.9 236.9 C365.9 234.5 367.8 232.7 369.7 230.6 C371.6 228.5 373.5 226.2 375.4 224.3 C377.3 222.4 379.6 220.7 381.2 219.1 C382.8 217.5 383.1 216.1 385.0 214.5 C386.9 212.9 390.4 210.8 392.6 209.5 C394.8 208.2 396.2 207.5 398.0 207.0 C399.8 206.5 401.7 206.3 403.5 206.4 C405.3 206.5 407.2 206.7 409.0 207.5 C410.8 208.3 412.3 209.4 414.0 211.0 C415.7 212.6 417.5 214.9 419.2 217.2 C420.9 219.4 422.6 222.1 424.1 224.5 C425.6 226.9 427.0 229.2 428.2 231.9 C429.4 234.7 430.1 237.8 431.3 241.0 C432.5 244.2 433.9 247.7 435.2 251.0 C436.5 254.3 438.0 257.7 439.1 261.0 C440.2 264.3 441.0 267.7 442.0 271.0 C443.0 274.3 443.8 276.3 445.0 281.0 C446.2 285.7 448.3 294.8 449.3 299.0 C450.3 303.2 450.4 303.0 451.2 306.2 C452.0 309.4 452.9 313.6 454.2 318.0 C455.5 322.4 457.5 325.7 459.2 332.5 C460.9 339.3 462.6 351.8 464.4 358.7 C466.2 365.6 468.1 366.6 470.0 373.7 C471.9 380.8 473.6 392.2 475.6 401.5 C477.6 410.8 480.1 421.3 481.8 429.4 C483.5 437.5 483.9 441.9 485.7 450.0 C487.4 458.1 490.1 468.6 492.3 477.9 C494.5 487.2 496.4 496.5 498.6 505.8 C500.8 515.1 502.9 524.4 505.5 533.7 C508.1 543.0 510.9 552.2 513.9 561.5 C516.9 570.8 520.3 581.3 523.7 589.4 C527.1 597.5 531.2 603.5 534.4 610.0 C537.6 616.5 539.5 622.5 542.7 628.1 C546.0 633.7 550.0 638.9 553.9 643.5 C557.8 648.1 562.4 652.3 566.4 656.0 C570.4 659.7 573.4 663.2 577.6 665.8 C581.8 668.3 586.9 669.5 591.5 671.3 C596.1 673.1 600.9 674.8 605.5 676.4 C610.1 678.0 614.8 679.5 619.4 680.9 C624.0 682.3 628.8 683.7 633.4 684.8 C638.0 685.9 642.6 686.7 647.3 687.6 C651.9 688.5 656.6 689.3 661.3 690.2 C665.9 691.1 670.6 691.7 675.2 692.8 C679.8 693.9 684.5 695.0 689.1 696.8 C693.8 698.6 698.5 701.1 703.1 703.4 C707.8 705.7 713.5 708.4 717.0 710.4 C720.5 712.4 721.2 713.0 724.0 715.5 C726.8 718.0 729.9 721.8 733.9 725.3 C737.9 728.8 743.2 732.7 747.9 736.4 C752.5 740.1 757.1 743.9 761.8 747.6 C766.4 751.3 771.1 755.1 775.8 758.8 C780.4 762.5 785.1 766.4 789.7 769.9 C794.4 773.4 799.1 776.6 803.7 779.7 C808.4 782.8 813.0 785.4 817.6 788.3 C822.2 791.2 826.9 794.4 831.5 797.0 C836.1 799.6 840.9 801.5 845.5 803.8 C850.1 806.1 854.8 808.3 859.4 811.0 C864.0 813.7 868.8 816.5 873.4 819.8 C878.0 823.0 882.6 826.9 887.3 830.5 C891.9 834.1 896.6 837.7 901.3 841.3 C905.9 844.9 910.6 848.8 915.2 852.2 C919.8 855.6 924.5 858.8 929.1 861.7 C933.8 864.6 939.6 867.8 943.1 869.7 C946.6 871.6 946.2 871.5 950.0 873.3 C953.8 875.1 960.5 878.2 966.0 880.5 C971.5 882.8 977.1 885.5 982.8 887.3 C988.5 889.1 994.5 890.1 1000.0 891.3 C1005.5 892.5 1010.4 893.6 1015.7 894.3 C1021.0 895.0 1026.5 895.2 1032.0 895.5 C1037.5 895.8 1042.5 895.8 1048.5 895.9 C1054.5 896.0 1062.0 896.0 1068.2 896.3 C1074.4 896.6 1080.3 896.6 1085.5 897.6 C1090.7 898.6 1094.8 900.8 1099.4 902.5 C1104.1 904.2 1108.8 906.1 1113.4 908.0 C1118.1 909.9 1122.7 911.7 1127.3 913.6 C1131.9 915.5 1136.6 917.3 1141.3 919.2 C1146.0 921.1 1150.8 923.1 1155.2 924.8 C1159.6 926.5 1163.1 927.8 1167.4 929.4 C1171.7 931.0 1176.5 932.9 1181.0 934.5 C1185.5 936.1 1190.2 937.8 1194.7 939.2 C1199.2 940.6 1203.5 941.7 1208.0 942.8 C1212.5 943.9 1217.9 945.0 1222.0 946.0 C1226.1 947.0 1225.5 947.0 1232.8 948.9 C1240.1 950.8 1254.6 954.4 1265.6 957.1 C1276.5 959.8 1287.5 962.8 1298.5 965.3 C1309.5 967.8 1320.4 970.0 1331.3 971.9 C1342.2 973.8 1353.2 975.4 1364.1 976.8 C1375.0 978.2 1386.0 979.1 1396.9 980.1 C1407.9 981.1 1418.8 981.9 1429.8 982.6 C1440.8 983.3 1454.2 983.9 1462.6 984.5 C1471.0 985.1 1468.6 986.0 1480.0 986.5 C1491.4 987.0 1514.0 987.4 1530.9 987.7 C1547.9 988.0 1564.8 988.2 1581.7 988.5 C1598.7 988.8 1615.6 989.2 1632.6 989.7 C1649.6 990.2 1659.8 991.0 1683.5 991.4 C1707.2 991.8 1758.6 992.1 1775.0 992.2 C1791.4 992.3 1780.8 992.3 1782.0 992.3"/>
<path stroke="#00447B" d="M294.0 221.0 C295.1 219.9 298.5 216.5 300.5 214.5 C302.5 212.5 304.1 210.2 306.0 209.0 C307.9 207.8 310.0 206.8 312.2 207.0 C314.4 207.2 317.2 208.7 319.1 210.5 C321.0 212.3 322.2 215.3 323.7 218.0 C325.2 220.7 326.8 222.9 328.3 226.6 C329.9 230.3 331.4 235.3 333.0 240.0 C334.6 244.7 336.5 249.9 338.0 254.8 C339.5 259.7 340.6 264.6 342.0 269.5 C343.4 274.4 345.0 279.4 346.4 284.3 C347.8 289.2 348.7 293.4 350.2 299.0 C351.7 304.6 353.7 312.1 355.2 317.9 C356.7 323.7 358.1 329.0 359.4 333.7 C360.7 338.4 360.9 339.1 363.0 345.8 C365.1 352.5 369.0 364.4 372.0 373.7 C375.0 383.0 378.5 393.8 380.8 401.5 C383.1 409.2 383.8 413.6 385.9 420.0 C387.9 426.4 390.4 433.1 393.1 439.7 C395.8 446.3 398.9 452.8 402.3 459.4 C405.7 466.0 409.9 473.2 413.5 479.1 C417.1 485.0 419.9 489.1 423.6 495.0 C427.3 500.9 432.1 508.1 435.7 514.7 C439.3 521.3 442.1 527.8 445.3 534.4 C448.5 541.0 452.2 548.2 455.1 554.1 C458.0 560.0 459.8 564.1 462.5 570.0 C465.2 575.9 468.1 583.1 471.1 589.7 C474.1 596.3 477.2 602.8 480.3 609.4 C483.4 616.0 485.8 621.8 489.8 629.1 C493.8 636.4 500.4 646.9 504.4 653.1 C508.4 659.3 510.8 662.5 513.6 666.2 C516.4 669.9 518.4 672.3 521.0 675.5 C523.6 678.7 525.8 681.6 529.4 685.6 C533.0 689.6 538.1 695.3 542.5 699.4 C546.9 703.5 551.7 707.4 555.6 710.2 C559.5 713.1 562.3 714.6 566.0 716.5 C569.7 718.4 573.4 719.9 577.6 721.5 C581.9 723.1 586.9 725.0 591.5 726.4 C596.1 727.8 600.9 729.1 605.5 729.9 C610.1 730.7 614.8 730.9 619.4 731.3 C624.0 731.6 628.8 731.6 633.4 732.0 C638.0 732.4 642.6 732.8 647.3 733.4 C651.9 734.0 655.5 734.6 661.3 735.5 C667.1 736.4 676.4 738.6 682.2 739.0 C688.0 739.4 691.5 736.8 696.1 737.6 C700.8 738.4 706.1 742.2 710.1 743.9 C714.1 745.6 716.0 745.8 720.0 747.6 C724.0 749.4 729.2 752.3 733.9 754.6 C738.5 756.9 743.2 759.0 747.9 761.5 C752.5 764.0 757.1 767.6 761.8 769.9 C766.4 772.2 771.1 773.4 775.8 775.5 C780.4 777.6 785.1 780.3 789.7 782.5 C794.4 784.7 799.1 786.3 803.7 788.8 C808.4 791.2 812.7 794.1 817.6 797.2 C822.5 800.3 828.4 803.8 833.0 807.3 C837.6 810.8 842.2 815.6 845.5 818.3 C848.8 821.0 849.4 821.0 852.5 823.4 C855.6 825.8 859.8 829.0 864.4 832.5 C869.0 836.0 875.2 840.5 880.3 844.3 C885.4 848.1 890.2 851.8 894.9 855.5 C899.5 859.2 903.2 862.8 908.2 866.5 C913.2 870.2 920.2 874.6 924.9 877.9 C929.5 881.2 931.9 883.7 936.1 886.4 C940.3 889.1 945.0 892.0 950.0 894.3 C955.0 896.6 960.5 898.3 966.0 900.2 C971.5 902.1 977.1 903.7 982.8 905.5 C988.5 907.3 994.5 909.2 1000.0 910.8 C1005.5 912.3 1010.4 913.7 1015.7 914.8 C1021.0 915.9 1026.5 916.7 1032.0 917.4 C1037.5 918.1 1042.5 918.9 1048.5 919.2 C1054.5 919.5 1062.0 918.3 1068.2 919.3 C1074.4 920.3 1080.3 923.5 1085.5 925.1 C1090.7 926.7 1094.8 927.8 1099.4 929.1 C1104.1 930.4 1108.8 931.8 1113.4 932.9 C1118.1 934.0 1122.7 935.1 1127.3 935.7 C1131.9 936.4 1136.6 936.2 1141.3 936.8 C1146.0 937.4 1150.6 938.5 1155.2 939.4 C1159.8 940.3 1164.4 941.2 1169.1 942.0 C1173.8 942.8 1177.9 943.4 1183.1 944.4 C1188.2 945.4 1191.7 946.1 1200.0 947.8 C1208.3 949.4 1221.9 951.9 1232.8 954.3 C1243.7 956.7 1254.6 959.4 1265.6 962.2 C1276.5 965.0 1287.5 968.3 1298.5 971.0 C1309.5 973.7 1320.4 976.1 1331.3 978.2 C1342.2 980.3 1353.2 981.9 1364.1 983.4 C1375.0 984.9 1386.0 986.3 1396.9 987.5 C1407.9 988.7 1418.8 989.7 1429.8 990.8 C1440.8 991.9 1454.2 993.5 1462.6 994.1 C1471.0 994.7 1468.6 994.0 1480.0 994.6 C1491.4 995.2 1514.0 996.8 1530.9 997.8 C1547.9 998.8 1564.8 999.7 1581.7 1000.4 C1598.7 1001.1 1615.6 1001.6 1632.6 1002.1 C1649.6 1002.6 1659.8 1002.9 1683.5 1003.3 C1707.2 1003.7 1758.6 1004.2 1775.0 1004.4 C1791.4 1004.6 1780.8 1004.5 1782.0 1004.5"/>
</g>
<text x="249.8" y="1021.8" font-size="57" text-anchor="end" textLength="101.06" lengthAdjust="spacingAndGlyphs">0.00</text>
<text x="249.8" y="862.2" font-size="57" text-anchor="end" textLength="101.06" lengthAdjust="spacingAndGlyphs">0.20</text>
<text x="249.8" y="702.6" font-size="57" text-anchor="end" textLength="101.06" lengthAdjust="spacingAndGlyphs">0.40</text>
<text x="249.8" y="543.0" font-size="57" text-anchor="end" textLength="101.06" lengthAdjust="spacingAndGlyphs">0.60</text>
<text x="249.8" y="383.5" font-size="57" text-anchor="end" textLength="101.06" lengthAdjust="spacingAndGlyphs">0.80</text>
<text x="249.8" y="223.9" font-size="57" text-anchor="end" textLength="101.06" lengthAdjust="spacingAndGlyphs">1.00</text>
<text x="249.8" y="64.3" font-size="57" text-anchor="end" textLength="101.06" lengthAdjust="spacingAndGlyphs">1.20</text>
<text x="301.3" y="1095.8" font-size="57" text-anchor="middle" textLength="86.67" lengthAdjust="spacingAndGlyphs">250</text>
<text x="596.2" y="1095.8" font-size="57" text-anchor="middle" textLength="86.67" lengthAdjust="spacingAndGlyphs">300</text>
<text x="891.1" y="1095.8" font-size="57" text-anchor="middle" textLength="86.67" lengthAdjust="spacingAndGlyphs">350</text>
<text x="1186.0" y="1095.8" font-size="57" text-anchor="middle" textLength="86.67" lengthAdjust="spacingAndGlyphs">400</text>
<text x="1480.9" y="1095.8" font-size="57" text-anchor="middle" textLength="86.67" lengthAdjust="spacingAndGlyphs">450</text>
<text x="1775.8" y="1095.8" font-size="57" text-anchor="middle" textLength="86.67" lengthAdjust="spacingAndGlyphs">500</text>
<text x="1038.4" y="1189.2" font-size="63" text-anchor="middle" textLength="443" lengthAdjust="spacingAndGlyphs">Wavelength (nm)</text>
<text transform="translate(62,532) rotate(-90)" x="0" y="0" font-size="63" text-anchor="middle" textLength="992.6" lengthAdjust="spacingAndGlyphs">Normalized Absorption Intensity (a. u.)</text>
<line x1="1383" y1="196.5" x2="1504" y2="196.5" stroke="#1774CB" stroke-width="7" stroke-linecap="round"/>
<text x="1518" y="214.3" font-size="56" font-weight="bold" textLength="56.03" lengthAdjust="spacingAndGlyphs">4a</text>
<line x1="1383" y1="278.7" x2="1504" y2="278.7" stroke="#FF0000" stroke-width="7" stroke-linecap="round"/>
<text x="1518" y="296.5" font-size="56" font-weight="bold" textLength="58.44" lengthAdjust="spacingAndGlyphs">4b</text>
<line x1="1383" y1="360.9" x2="1504" y2="360.9" stroke="#7F2BA5" stroke-width="7" stroke-linecap="round"/>
<text x="1518" y="378.7" font-size="56" font-weight="bold" textLength="51.83" lengthAdjust="spacingAndGlyphs">4c</text>
<line x1="1383" y1="443.1" x2="1504" y2="443.1" stroke="#FFC000" stroke-width="7" stroke-linecap="round"/>
<text x="1518" y="460.9" font-size="56" font-weight="bold" textLength="58.44" lengthAdjust="spacingAndGlyphs">4d</text>
<line x1="1383" y1="525.3" x2="1504" y2="525.3" stroke="#1E9CD9" stroke-width="7" stroke-linecap="round"/>
<text x="1518" y="543.1" font-size="56" font-weight="bold" textLength="56.58" lengthAdjust="spacingAndGlyphs">4e</text>
<line x1="1383" y1="607.5" x2="1504" y2="607.5" stroke="#44B03B" stroke-width="7" stroke-linecap="round"/>
<text x="1518" y="625.3" font-size="56" font-weight="bold" textLength="46.11" lengthAdjust="spacingAndGlyphs">4f</text>
<line x1="1383" y1="689.7" x2="1504" y2="689.7" stroke="#00447B" stroke-width="7" stroke-linecap="round"/>
<text x="1518" y="707.5" font-size="56" font-weight="bold" textLength="54.94" lengthAdjust="spacingAndGlyphs">4g</text>
</svg>
</body></html>
